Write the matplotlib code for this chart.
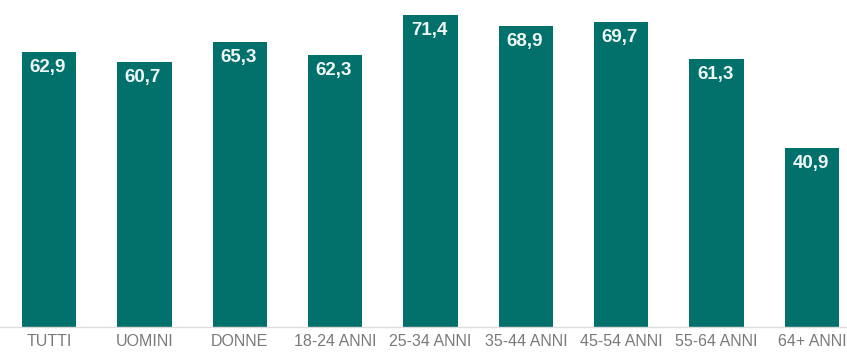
import matplotlib
matplotlib.use("Agg")
import matplotlib.pyplot as plt
from matplotlib import font_manager

categories = ["TUTTI", "UOMINI", "DONNE", "18-24 ANNI", "25-34 ANNI",
              "35-44 ANNI", "45-54 ANNI", "55-64 ANNI", "64+ ANNI"]
values = [62.9, 60.7, 65.3, 62.3, 71.4, 68.9, 69.7, 61.3, 40.9]
value_labels = ["62,9", "60,7", "65,3", "62,3", "71,4", "68,9", "69,7", "61,3", "40,9"]

names = {f.name for f in font_manager.fontManager.ttflist}
tick_font = ["Liberation Sans Narrow", "DejaVu Sans"] if "Liberation Sans Narrow" in names else ["Liberation Sans", "DejaVu Sans"]

fig = plt.figure(figsize=(8.47, 3.54), dpi=100)
ax = fig.add_axes([0, 27 / 354, 1, 327 / 354])

x = list(range(len(categories)))
bars = ax.bar(x, values, width=0.57, color="#02706B", zorder=2)

for b, lab in zip(bars, value_labels):
    ax.annotate(lab, (b.get_x() + b.get_width() / 2, b.get_height()),
                xytext=(-1, -5), textcoords="offset points",
                ha="center", va="top", color="#EEF7F5", fontsize=13.5,
                fontweight="bold", family=["Liberation Sans", "DejaVu Sans"])

ax.set_xlim(-49 / 95.375, (847 - 49) / 95.375)
ax.set_ylim(0, 327 / 4.37)
ax.set_xticks(x)
ax.set_xticklabels(categories, fontsize=11.5, color="#7A7A7A", family=tick_font)
ax.tick_params(axis="x", length=0, pad=5)
ax.set_yticks([])
for s in ["top", "left", "right"]:
    ax.spines[s].set_visible(False)
ax.spines["bottom"].set_color("#DCDCDC")
ax.spines["bottom"].set_linewidth(1)

fig.savefig("out.png", dpi=100)
